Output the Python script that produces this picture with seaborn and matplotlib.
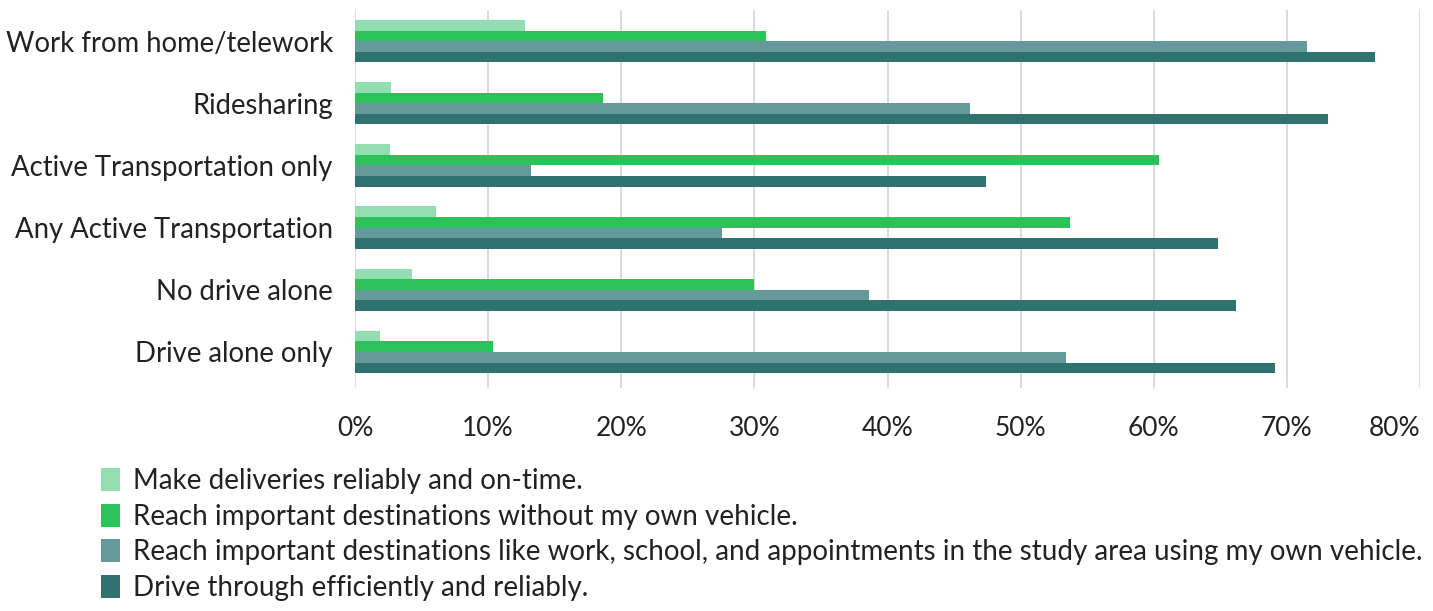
import numpy as np
import pandas as pd
import matplotlib
matplotlib.use("Agg")
import matplotlib.pyplot as plt
import seaborn as sns
from matplotlib.ticker import FuncFormatter

# Primary travel mode groups
modes = [
    "Work from home/telework",
    "Ridesharing",
    "Active Transportation only",
    "Any Active Transportation",
    "No drive alone",
    "Drive alone only",
]

# Priorities (legend order)
priorities = [
    "Make deliveries reliably and on-time.",
    "Reach important destinations without my own vehicle.",
    "Reach important destinations like work, school, and appointments in the study area using my own vehicle.",
    "Drive through efficiently and reliably.",
]

# Share of respondents (%) choosing each priority, per mode
deliveries = [12.8, 2.7, 2.6, 6.1, 4.3, 1.9]
no_vehicle = [30.9, 18.6, 60.4, 53.7, 30.0, 10.4]
own_vehicle = [71.5, 46.2, 13.2, 27.6, 38.6, 53.4]
drive_through = [76.6, 73.1, 47.4, 64.8, 66.2, 69.1]

colors = ["#93deb0", "#2cc25a", "#66999a", "#2f7270"]

series = [deliveries, no_vehicle, own_vehicle, drive_through]
df = pd.DataFrame(
    [(m, p, v) for p, vals in zip(priorities, series) for m, v in zip(modes, vals)],
    columns=["mode", "priority", "share"],
)

sns.set_theme(style="white")
plt.rcParams["font.family"] = ["Lato", "DejaVu Sans"]

fig = plt.figure(figsize=(14.33, 6.11), dpi=100)
ax = fig.add_axes([355 / 1433, 1 - 388 / 611, (1420 - 355) / 1433, (388 - 10) / 611])

sns.barplot(
    data=df, y="mode", x="share", hue="priority",
    order=modes, hue_order=priorities, palette=colors,
    orient="h", width=0.68, gap=0, saturation=1,
    edgecolor="none", linewidth=0, ax=ax, legend=True,
)

ax.set_xlim(0, 80)
ax.set_xticks(np.arange(0, 81, 10))
ax.xaxis.set_major_formatter(FuncFormatter(lambda v, _: f"{v:.0f}%"))
ax.grid(axis="x", color="#d4d4d4", linewidth=1.2)
ax.set_axisbelow(True)
for s in ax.spines.values():
    s.set_visible(False)
ax.set_xlabel("")
ax.set_ylabel("")
ax.tick_params(axis="x", length=0, pad=20, labelsize=19, labelcolor="#222222")
ax.tick_params(axis="y", length=0, pad=16, labelsize=19.8, labelcolor="#222222")
ax.set_ylim(len(modes) - 0.42, -0.5)
last = ax.get_xticklabels()[-1]
last.set_horizontalalignment("right")
last.set_x(80)

handles, labels = ax.get_legend_handles_labels()
ax.get_legend().remove()
fig.legend(
    handles, labels, loc="upper left",
    bbox_to_anchor=(101 / 1433, 1 - 468 / 611),
    frameon=False, fontsize=20, borderpad=0, borderaxespad=0,
    handlelength=0.7, handleheight=0.9, handletextpad=0.45,
    labelspacing=0.34, labelcolor="#222222",
)

fig.savefig("out.png", dpi=100, facecolor="white")
